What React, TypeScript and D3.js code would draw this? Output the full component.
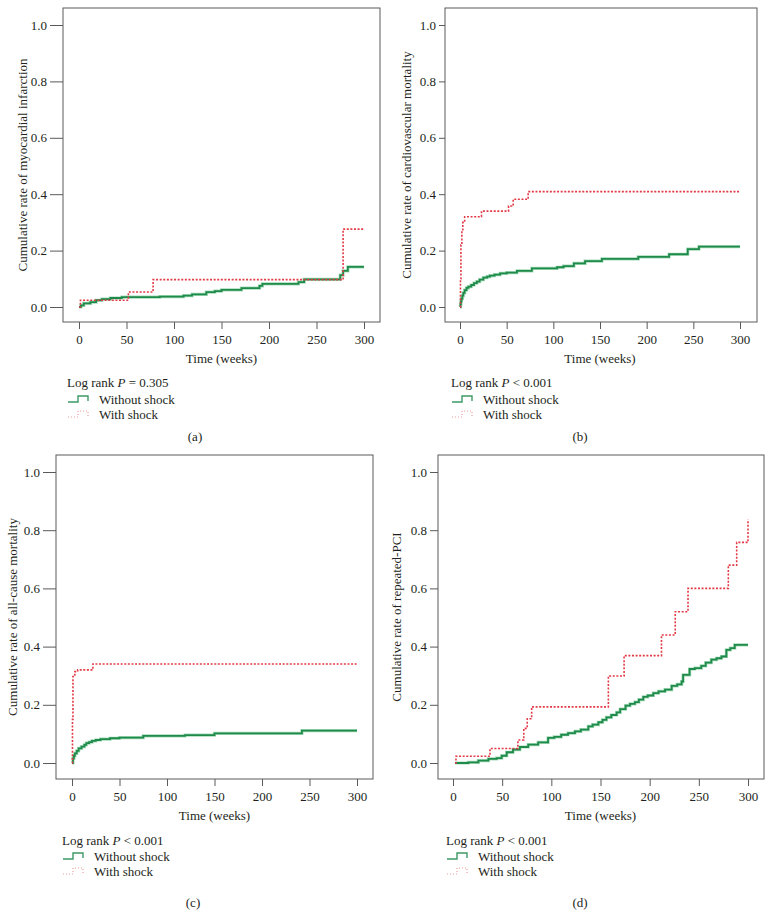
import React, { useRef, useEffect } from "react";
import * as d3 from "d3";

type Pt = [number, number];

const TIME_TICKS = [0, 50, 100, 150, 200, 250, 300];
const RATE_TICKS = [0, 0.2, 0.4, 0.6, 0.8, 1.0];
const SERIES_NAMES = ["Without shock", "With shock"];

// (a) myocardial infarction
const miWithout: Pt[] = [
  [0, 0], [2, 0.006], [5, 0.013], [12, 0.017], [18, 0.024], [24, 0.028], [33, 0.032],
  [45, 0.035], [85, 0.037], [110, 0.04], [119, 0.045], [134, 0.053], [143, 0.056],
  [150, 0.061], [171, 0.067], [190, 0.075], [193, 0.082], [231, 0.088], [237, 0.098],
  [275, 0.113], [278, 0.128], [283, 0.142], [300, 0.142],
];
const miWith: Pt[] = [
  [0, 0], [1.5, 0.024], [52, 0.053], [78, 0.097], [278, 0.276], [300, 0.276],
];

// (b) cardiovascular mortality
const cvWithout: Pt[] = [
  [0, 0], [0.5, 0.01], [1, 0.02], [1.5, 0.03], [2.5, 0.04], [3.5, 0.05], [5, 0.06],
  [7, 0.068], [9, 0.072], [12, 0.078], [15, 0.085], [18, 0.09], [21, 0.097], [25, 0.104],
  [29, 0.108], [32, 0.111], [37, 0.115], [43, 0.119], [50, 0.122], [61, 0.128],
  [77, 0.137], [104, 0.141], [111, 0.145], [122, 0.155], [134, 0.163], [152, 0.171],
  [191, 0.178], [224, 0.187], [244, 0.205], [256, 0.214], [300, 0.214],
];
const cvWith: Pt[] = [
  [0, 0], [0.5, 0.1], [1, 0.22], [2, 0.27], [3, 0.3], [5, 0.32], [23, 0.34], [52, 0.358],
  [57, 0.382], [73, 0.409], [300, 0.409],
];

// (c) all-cause mortality
const acWithout: Pt[] = [
  [0, 0], [1, 0.016], [2, 0.025], [3, 0.033], [5, 0.042], [7, 0.05], [10, 0.056],
  [13, 0.062], [15, 0.068], [18, 0.072], [21, 0.076], [25, 0.079], [30, 0.082],
  [40, 0.085], [50, 0.087], [75, 0.093], [119, 0.096], [150, 0.102], [242, 0.111],
  [300, 0.111],
];
const acWith: Pt[] = [
  [0, 0], [0.5, 0.15], [1, 0.297], [3, 0.314], [6, 0.32], [22, 0.34], [300, 0.34],
];

// (d) repeated PCI
const pciWithout: Pt[] = [
  [2, 0], [15.6, 0.002], [25.8, 0.008], [36, 0.014], [44.4, 0.017], [49.5, 0.025],
  [54.6, 0.037], [61, 0.046], [68, 0.055], [76.5, 0.063], [86.6, 0.071], [96.7, 0.086],
  [103, 0.09], [110, 0.097], [117, 0.103], [124, 0.109], [130, 0.115], [137.6, 0.126],
  [142, 0.132], [147.8, 0.14], [152, 0.148], [156, 0.157], [161, 0.165], [166.4, 0.174],
  [170, 0.185], [175.5, 0.197], [180, 0.203], [185, 0.209], [189, 0.218], [193.5, 0.227],
  [198, 0.232], [203.7, 0.24], [209, 0.246], [215.6, 0.252], [222.4, 0.265], [228, 0.27],
  [232.5, 0.28], [234, 0.303], [240.6, 0.323], [246, 0.326], [252.5, 0.334], [257, 0.345],
  [262.7, 0.355], [268, 0.36], [273, 0.366], [278, 0.389], [282, 0.395], [286.5, 0.406],
  [300, 0.406],
];
const pciWith: Pt[] = [
  [2, 0], [3, 0.023], [37.6, 0.05], [66, 0.079], [72, 0.119], [75.5, 0.152], [80, 0.193],
  [158, 0.299], [174, 0.369], [212, 0.44], [226, 0.52], [239, 0.6], [280, 0.68],
  [288.5, 0.758], [300, 0.837],
];

const PANELS = [
  {
    tag: "(a)", yTitle: "Cumulative rate of myocardial infarction", pText: " = 0.305",
    without: miWithout, withS: miWith,
    box: { l: 63, r: 380, t: 8, b: 322 }, xr: [79, 364], yr: [307, 25], yTick: 13,
    titleX: 22, legX: 67, legY: [387, 404, 419], tagX: 195, tagY: 441,
  },
  {
    tag: "(b)", yTitle: "Cumulative rate of cardiovascular mortality", pText: " < 0.001",
    without: cvWithout, withS: cvWith,
    box: { l: 445, r: 757, t: 8, b: 322 }, xr: [460, 740], yr: [307, 25], yTick: 6,
    titleX: 406, legX: 451, legY: [387, 404, 419], tagX: 580, tagY: 441,
  },
  {
    tag: "(c)", yTitle: "Cumulative rate of all-cause mortality", pText: " < 0.001",
    without: acWithout, withS: acWith,
    box: { l: 56, r: 373, t: 455, b: 779 }, xr: [72, 357], yr: [763, 472], yTick: 13,
    titleX: 12, legX: 62, legY: [845, 861, 876], tagX: 193, tagY: 907,
  },
  {
    tag: "(d)", yTitle: "Cumulative rate of repeated-PCI", pText: " < 0.001",
    without: pciWithout, withS: pciWith,
    box: { l: 438, r: 764, t: 455, b: 779 }, xr: [453, 748], yr: [763, 472], yTick: 8,
    titleX: 396, legX: 446, legY: [845, 861, 876], tagX: 580, tagY: 907,
  },
];

const INK = "#231f20";
const FRAME = "#5a5a5a";
const GREEN = "#1f8a4a";
const GREEN_HALO = "#a6dcbb";
const RED = "#e23a46";

function Panel({ p }: { p: (typeof PANELS)[number] }) {
  const gRef = useRef<SVGGElement | null>(null);

  useEffect(() => {
    if (!gRef.current) return;
    const g = d3.select(gRef.current);
    g.selectAll("*").remove();

    const x = d3.scaleLinear().domain([0, 300]).range(p.xr);
    const y = d3.scaleLinear().domain([0, 1]).range(p.yr);
    const { l, r, t, b } = p.box;

    g.append("rect")
      .attr("x", l).attr("y", t)
      .attr("width", r - l).attr("height", b - t)
      .attr("fill", "none").attr("stroke", FRAME).attr("stroke-width", 1);

    const xAxis = g.append("g")
      .attr("transform", `translate(0,${b})`)
      .call(d3.axisBottom(x).tickValues(TIME_TICKS).tickSize(7).tickPadding(6).tickFormat(d3.format("d")));
    const yAxis = g.append("g")
      .attr("transform", `translate(${l},0)`)
      .call(d3.axisLeft(y).tickValues(RATE_TICKS).tickSize(p.yTick).tickPadding(3).tickFormat(d3.format(".1f")));
    [xAxis, yAxis].forEach((ax) => {
      ax.select(".domain").remove();
      ax.selectAll("line").attr("stroke", FRAME);
      ax.selectAll("text")
        .attr("fill", INK)
        .attr("font-size", 13)
        .attr("font-family", "Liberation Serif");
    });

    const line = d3.line<Pt>()
      .x((d) => x(d[0]))
      .y((d) => y(d[1]))
      .curve(d3.curveStepAfter);

    g.append("path").datum(p.without).attr("d", line)
      .attr("fill", "none").attr("stroke", GREEN_HALO).attr("stroke-width", 3.2);
    g.append("path").datum(p.without).attr("d", line)
      .attr("fill", "none").attr("stroke", GREEN).attr("stroke-width", 1.8);
    g.append("path").datum(p.withS).attr("d", line)
      .attr("fill", "none").attr("stroke", RED).attr("stroke-width", 1.6)
      .attr("stroke-dasharray", "2 1.6");

    const xm = (p.xr[0] + p.xr[1]) / 2;
    g.append("text")
      .attr("x", xm).attr("y", b + 41)
      .attr("text-anchor", "middle").attr("font-size", 13).attr("fill", INK)
      .text("Time (weeks)");

    const ym = (t + b) / 2;
    g.append("text")
      .attr("transform", `translate(${p.titleX},${ym}) rotate(-90)`)
      .attr("dy", "0.35em")
      .attr("text-anchor", "middle").attr("font-size", 13).attr("fill", INK)
      .text(p.yTitle);

    // legend
    const lr = g.append("text")
      .attr("x", p.legX).attr("y", p.legY[0])
      .attr("font-size", 13).attr("fill", INK);
    lr.append("tspan").text("Log rank ");
    lr.append("tspan").attr("font-style", "italic").text("P");
    lr.append("tspan").text(p.pText);

    const sx = p.legX + 1;
    const symbol = (yb: number) =>
      `M${sx},${yb - 2}H${sx + 10}V${yb - 8}H${sx + 20}V${yb - 3}`;
    g.append("path").attr("d", symbol(p.legY[1]))
      .attr("fill", "none").attr("stroke", "#3c9a66").attr("stroke-width", 1.4);
    g.append("path").attr("d", symbol(p.legY[2]))
      .attr("fill", "none").attr("stroke", "#f09a9a").attr("stroke-width", 1.2)
      .attr("stroke-dasharray", "1 2");
    SERIES_NAMES.forEach((name, i) => {
      g.append("text")
        .attr("x", p.legX + 32).attr("y", p.legY[i + 1])
        .attr("font-size", 13).attr("fill", INK)
        .text(name);
    });

    g.append("text")
      .attr("x", p.tagX).attr("y", p.tagY)
      .attr("text-anchor", "middle").attr("font-size", 13).attr("fill", INK)
      .text(p.tag);
  }, [p]);

  return <g ref={gRef} />;
}

export default function App() {
  return (
    <svg
      width={773}
      height={921}
      style={{ position: "absolute", left: 0, top: 0, background: "#fff" }}
      fontFamily="Liberation Serif"
    >
      <rect width={773} height={921} fill="#fff" />
      {PANELS.map((p) => (
        <Panel key={p.tag} p={p} />
      ))}
    </svg>
  );
}
